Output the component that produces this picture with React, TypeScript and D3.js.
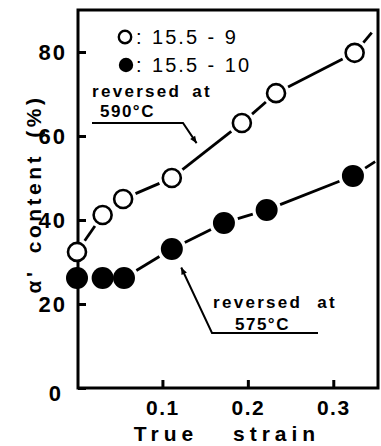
import React, { useRef, useEffect } from 'react';
import * as d3 from 'd3';

// true strain / alpha' content (%)
const openStrain = [0.0, 0.03, 0.054, 0.111, 0.193, 0.233, 0.325];
const openContent = [32.4, 41.2, 45.0, 50.0, 63.1, 70.2, 79.8];
const openTrendEnd = [0.345, 84.6];

const filledStrain = [0.0, 0.03, 0.055, 0.111, 0.172, 0.222, 0.323];
const filledContent = [26.2, 26.2, 26.2, 33.1, 39.3, 42.4, 50.5];
const filledTrendEnd = [0.349, 53.9];

const xTicks = [0.1, 0.2, 0.3];
const yTicks = [0, 20, 40, 60, 80];

const legendLabels = [': 15.5 - 9', ': 15.5 - 10'];

const FONT = "'Liberation Sans', Arial, sans-serif";

const App = () => {
  const svgRef = useRef<SVGSVGElement>(null);

  useEffect(() => {
    const svg = d3.select(svgRef.current);
    svg.selectAll('*').remove();

    const width = 381;
    const height = 446;
    const left = 78, top = 10, right = 378, bottom = 388;

    const x = d3.scaleLinear().domain([0, 0.35]).range([77, 376]);
    const y = d3.scaleLinear().domain([0, 90]).range([bottom, top]);

    svg.attr('width', width).attr('height', height);
    svg.append('rect').attr('width', width).attr('height', height).attr('fill', '#fff');

    // frame
    svg.append('rect')
      .attr('x', left).attr('y', top)
      .attr('width', right - left).attr('height', bottom - top)
      .attr('fill', 'none').attr('stroke', '#000').attr('stroke-width', 3);

    // y axis ticks (inward)
    const yAxis = d3.axisLeft(y).tickValues(yTicks).tickSize(-8).tickPadding(11).tickFormat(d3.format('d'));
    const gy = svg.append('g').attr('transform', `translate(${left},0)`).call(yAxis);
    gy.select('.domain').remove();
    gy.selectAll('.tick line').attr('stroke-width', 3);
    gy.selectAll('.tick text')
      .style('font-family', FONT).style('font-size', '22px').style('font-weight', 'bold')
      .attr('letter-spacing', 2).attr('fill', '#000');
    gy.selectAll('.tick').filter((d: any) => d === 0).select('text').attr('dy', '0.55em').attr('x', -15);

    // x axis ticks (inward)
    const xAxis = d3.axisBottom(x).tickValues(xTicks).tickSize(-8).tickPadding(12).tickFormat(d3.format('.1f'));
    const gx = svg.append('g').attr('transform', `translate(0,${bottom})`).call(xAxis);
    gx.select('.domain').remove();
    gx.selectAll('.tick line').attr('stroke-width', 3);
    gx.selectAll('.tick text')
      .style('font-family', FONT).style('font-size', '21px').style('font-weight', 'bold')
      .attr('letter-spacing', 1.5).attr('fill', '#000');

    // axis titles
    svg.append('text')
      .attr('x', 227).attr('y', 441)
      .attr('text-anchor', 'middle')
      .style('font-family', FONT).style('font-size', '21px').style('font-weight', 'bold')
      .attr('letter-spacing', 5).attr('word-spacing', 24)
      .text('True strain');

    svg.append('text')
      .attr('transform', 'translate(41,194) rotate(-90)')
      .attr('text-anchor', 'middle')
      .style('font-family', FONT).style('font-size', '21px').style('font-weight', 'bold')
      .attr('letter-spacing', 3.5).attr('word-spacing', 6)
      .text("α' content (%)");

    // series connecting dashes
    const drawSegments = (xs: number[], ys: number[], end: number[], r: number) => {
      const pts = xs.map((d, i) => [x(d), y(ys[i])]);
      const gap = r + 3.5;
      const g = svg.append('g').attr('stroke', '#000').attr('stroke-width', 2.8).attr('stroke-linecap', 'butt');
      for (let i = 0; i < pts.length - 1; i++) {
        const [x1, y1] = pts[i];
        const [x2, y2] = pts[i + 1];
        const len = Math.hypot(x2 - x1, y2 - y1);
        if (len < gap * 2 + 3) continue;
        const ux = (x2 - x1) / len, uy = (y2 - y1) / len;
        g.append('line')
          .attr('x1', x1 + ux * gap).attr('y1', y1 + uy * gap)
          .attr('x2', x2 - ux * gap).attr('y2', y2 - uy * gap);
      }
      const [lx, ly] = pts[pts.length - 1];
      const ex = x(end[0]), ey = y(end[1]);
      const len = Math.hypot(ex - lx, ey - ly);
      const ux = (ex - lx) / len, uy = (ey - ly) / len;
      g.append('line')
        .attr('x1', lx + ux * gap).attr('y1', ly + uy * gap)
        .attr('x2', ex).attr('y2', ey);
    };
    drawSegments(openStrain, openContent, openTrendEnd, 10);
    drawSegments(filledStrain, filledContent, filledTrendEnd, 11);

    svg.append('g').selectAll('circle')
      .data(openStrain)
      .enter().append('circle')
      .attr('cx', d => x(d)).attr('cy', (d, i) => y(openContent[i]))
      .attr('r', 9)
      .attr('fill', '#fff').attr('stroke', '#000').attr('stroke-width', 2.6);

    svg.append('g').selectAll('circle')
      .data(filledStrain)
      .enter().append('circle')
      .attr('cx', d => x(d)).attr('cy', (d, i) => y(filledContent[i]))
      .attr('r', 11)
      .attr('fill', '#000');

    // legend
    const legend = svg.append('g');
    legend.append('circle').attr('cx', 125).attr('cy', 37).attr('r', 6.2)
      .attr('fill', '#fff').attr('stroke', '#000').attr('stroke-width', 2.4);
    legend.append('circle').attr('cx', 126).attr('cy', 65).attr('r', 7.2).attr('fill', '#000');
    legend.selectAll('text')
      .data(legendLabels)
      .enter().append('text')
      .attr('x', 136).attr('y', (d, i) => 44 + i * 28)
      .style('font-family', FONT).style('font-size', '20px')
      .attr('letter-spacing', 2).attr('word-spacing', 1)
      .text(d => d);

    // annotations
    const annot = svg.append('g')
      .style('font-family', FONT).style('font-weight', 'bold').style('font-size', '17px');

    annot.append('text').attr('x', 92).attr('y', 97).attr('letter-spacing', 2.3).attr('word-spacing', 4).text('reversed at');
    annot.append('text').attr('x', 100).attr('y', 117).attr('letter-spacing', 1.5).text('590°C');
    annot.append('text').attr('x', 213).attr('y', 308).attr('letter-spacing', 2.3).attr('word-spacing', 8).text('reversed at');
    annot.append('text').attr('x', 235).attr('y', 330).attr('letter-spacing', 1.5).text('575°C');

    const arrow = (pts: number[][]) => {
      annot.append('path')
        .attr('d', d3.line()(pts as [number, number][]))
        .attr('fill', 'none').attr('stroke', '#000').attr('stroke-width', 2);
      const [ax, ay] = pts[pts.length - 2];
      const [tx, ty] = pts[pts.length - 1];
      const ang = Math.atan2(ty - ay, tx - ax);
      const L = 7, W = 3;
      const bx = tx - Math.cos(ang) * L, by = ty - Math.sin(ang) * L;
      const px = -Math.sin(ang) * W, py = Math.cos(ang) * W;
      annot.append('path')
        .attr('d', `M${tx},${ty}L${bx + px},${by + py}L${bx - px},${by - py}Z`)
        .attr('fill', '#000');
    };
    arrow([[92, 123], [183, 123], [x(0.14), y(58.3)]]);
    arrow([[318, 333], [212, 333], [x(0.122), y(28.7)]]);
  }, []);

  return <svg ref={svgRef} style={{ position: 'absolute', left: 0, top: 0 }} />;
};

export default App;
